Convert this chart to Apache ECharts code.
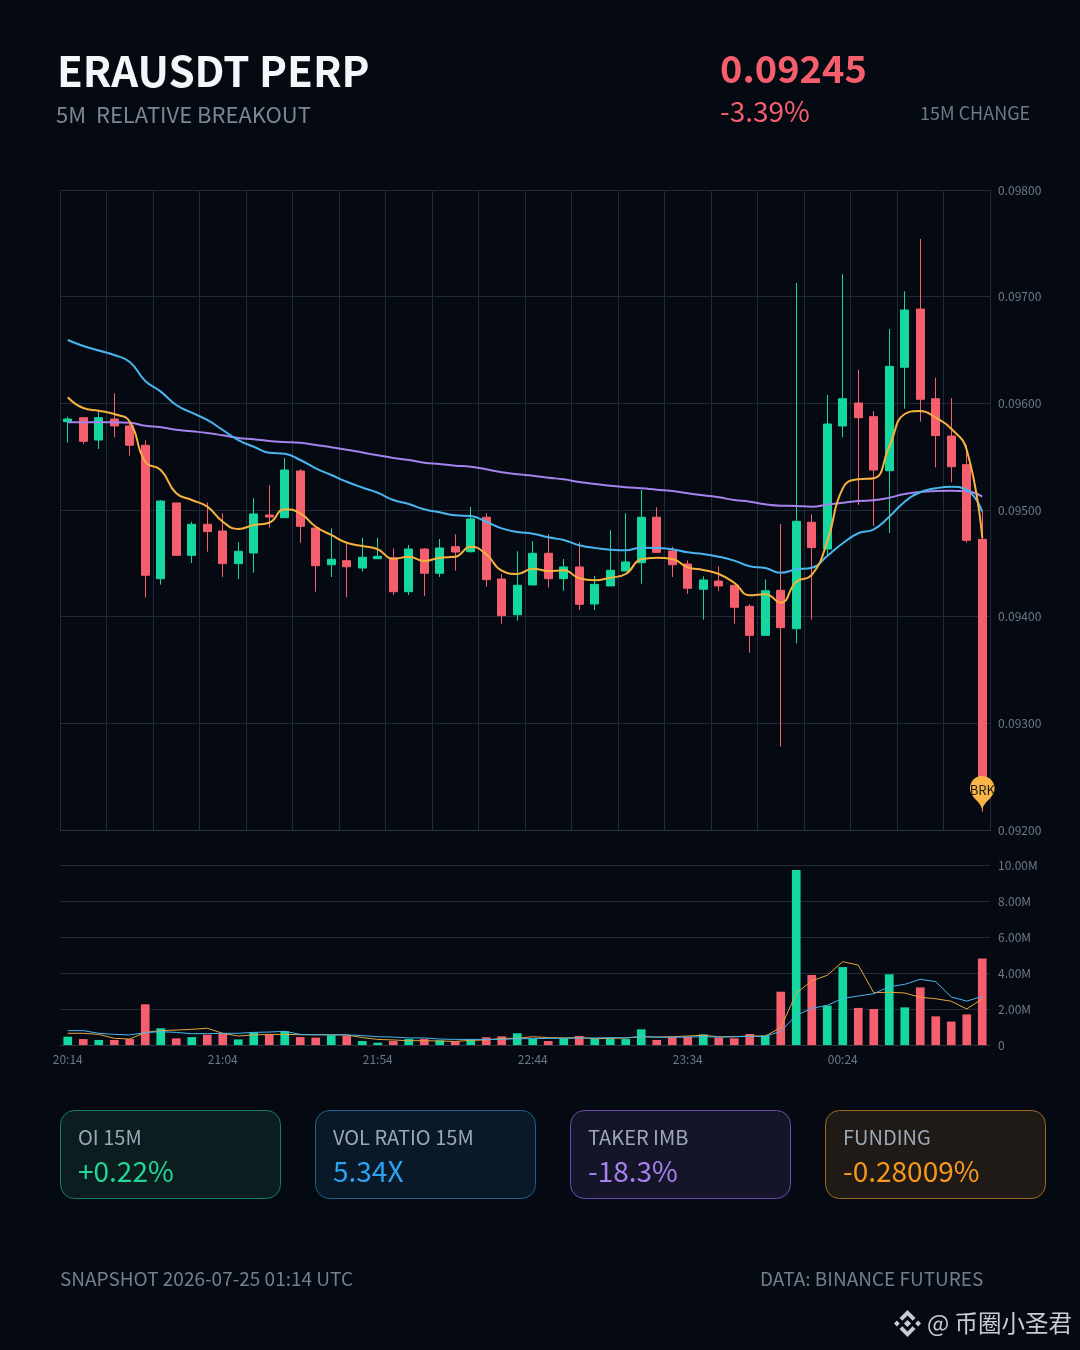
<!DOCTYPE html>
<html><head><meta charset="utf-8">
<style>html,body{margin:0;padding:0;background:#050a12}#c{width:1080px;height:1350px}</style>
<script src="https://cdn.jsdelivr.net/npm/echarts@6/dist/echarts.min.js"></script>
</head><body><div id="c"></div>
<script>
const times=["20:14","20:19","20:24","20:29","20:34","20:39","20:44","20:49","20:54","20:59","21:04","21:09","21:14","21:19","21:24","21:29","21:34","21:39","21:44","21:49","21:54","21:59","22:04","22:09","22:14","22:19","22:24","22:29","22:34","22:39","22:44","22:49","22:54","22:59","23:04","23:09","23:14","23:19","23:24","23:29","23:34","23:39","23:44","23:49","23:54","23:59","00:04","00:09","00:14","00:19","00:24","00:29","00:34","00:39","00:44","00:49","00:54","00:59","01:04","01:09"];
const opens=[.095828,.095865,.095656,.095853,.095788,.095607,.094356,.095066,.094575,.094866,.094803,.094497,.094597,.094953,.094928,.095366,.094831,.094487,.094525,.094456,.094543,.094553,.094234,.094634,.094407,.094656,.094609,.094932,.094353,.094018,.094297,.094594,.094356,.094466,.094119,.094288,.094428,.094506,.094932,.094616,.094494,.094257,.094334,.094294,.094097,.093825,.094247,.093887,.094885,.094634,.095788,.096003,.095875,.095368,.096338,.096884,.096043,.095694,.095425,.094725];
const closes=[.095853,.095644,.095865,.095788,.095607,.094388,.095084,.094575,.094866,.094797,.094497,.094613,.094963,.094934,.095375,.094847,.094478,.094538,.094468,.094557,.094566,.094234,.094634,.094407,.094644,.094606,.094916,.094347,.094009,.094294,.094594,.094356,.094466,.094116,.094303,.094435,.094513,.094932,.094603,.094487,.094266,.094344,.094288,.094088,.093825,.094243,.093897,.094894,.094647,.095806,.096043,.095865,.095375,.096347,.096875,.096038,.095697,.095406,.094716,.09245];
const lows=[.095631,.095619,.095572,.095682,.095509,.094178,.0943,.094575,.094503,.094609,.094372,.094353,.094412,.094834,.094928,.094691,.094234,.094372,.094182,.094422,.094541,.094203,.094203,.094194,.094372,.094431,.0946,.094281,.093934,.093962,.094297,.094272,.094243,.094063,.094063,.094288,.094428,.094309,.0946,.094372,.094213,.093972,.094241,.093934,.093662,.093825,.092781,.09375,.093972,.094578,.095682,.095047,.09485,.094784,.09595,.095828,.0954,.09526,.094693,.092172];
const highs=[.095875,.095865,.095922,.096094,.095816,.095653,.095094,.095066,.09489,.095072,.094969,.094697,.09511,.095232,.095488,.095384,.094831,.094828,.094688,.09474,.09474,.094641,.094672,.094641,.094728,.094772,.095028,.094969,.094397,.094613,.094709,.094772,.094541,.094697,.094381,.09481,.094969,.095188,.095025,.094656,.094528,.094378,.094472,.094294,.094116,.09435,.094869,.097128,.09496,.096078,.09721,.096313,.095928,.096697,.09705,.097541,.09624,.09605,.09561,.094984];
const maFast=[.096057,.095956,.095931,.0959,.095828,.095453,.095375,.095157,.095094,.095031,.09489,.094822,.094859,.094881,.095007,.094969,.094843,.094766,.094693,.094663,.094632,.094541,.094562,.094522,.094553,.094562,.094656,.094585,.094431,.0944,.09445,.094428,.094435,.09436,.094341,.094365,.0944,.094538,.094553,.094541,.094463,.094438,.0944,.094318,.0942,.09421,.094131,.094328,.094391,.094703,.095203,.095288,.095297,.095593,.0959,.095928,.095865,.095762,.095563,.094738];
const maMid=[.096594,.096538,.096495,.096453,.096388,.09621,.09611,.095984,.095912,.095844,.09575,.095656,.095593,.095537,.095528,.095469,.095391,.095328,.095265,.095211,.095162,.095094,.095056,.095007,.094978,.09495,.094944,.09489,.094828,.094794,.094778,.094744,.094719,.094669,.094644,.094628,.094622,.094647,.094644,.094632,.094603,.094588,.094562,.094525,.094472,.094456,.094412,.094444,.094459,.094569,.094688,.094782,.094819,.094937,.095078,.095166,.095203,.095218,.095188,.094984];
const maSlow=[.095822,.095822,.095822,.095822,.095818,.09579,.095775,.095753,.095738,.095722,.0957,.095675,.095663,.095647,.095638,.095631,.095609,.095588,.095565,.095539,.095513,.095488,.095469,.095443,.095431,.095415,.095406,.095382,.095353,.095335,.095322,.095303,.095288,.095263,.095244,.095228,.095213,.095203,.09519,.095178,.095157,.095138,.095119,.095094,.095078,.095053,.09504,.095038,.095031,.09505,.095068,.095084,.095091,.095115,.09515,.095169,.095178,.095181,.095175,.095125];
const volumes=[.46,.33,.28,.28,.33,2.26,.93,.37,.44,.57,.65,.31,.70,.59,.76,.44,.41,.54,.52,.22,.13,.22,.33,.33,.26,.20,.31,.43,.48,.65,.35,.22,.37,.50,.35,.37,.33,.87,.28,.43,.46,.59,.41,.37,.61,.52,2.96,9.72,3.89,2.19,4.33,2.06,2.00,3.93,2.09,3.20,1.59,1.30,1.70,4.81];
const volMaFast=[.65,.65,.59,.37,.33,.70,.80,.83,.87,.93,.65,.50,.56,.59,.59,.57,.57,.57,.56,.41,.31,.28,.24,.24,.22,.20,.26,.28,.37,.37,.46,.41,.39,.41,.35,.37,.39,.46,.44,.46,.50,.54,.46,.46,.50,.50,.96,2.87,3.57,3.87,4.63,4.44,2.91,2.93,2.89,2.65,2.57,2.43,2.00,2.56];
const volMaSlow=[.80,.80,.65,.59,.56,.69,.74,.70,.63,.63,.65,.65,.70,.72,.76,.59,.57,.56,.56,.52,.46,.44,.39,.39,.33,.31,.31,.31,.31,.35,.35,.37,.37,.39,.39,.41,.39,.48,.43,.43,.44,.46,.44,.46,.48,.48,.76,1.65,2.04,2.20,2.59,2.72,2.85,3.24,3.37,3.65,3.52,2.67,2.44,2.70];
const cards=[
 {label:"OI 15M",value:"+0.22%",x:60,fill:"#0b1d1e",border:"#157f5f",color:"#22d796"},
 {label:"VOL RATIO 15M",value:"5.34X",x:315,fill:"#0a1928",border:"#1d6290",color:"#2aa3f4"},
 {label:"TAKER IMB",value:"-18.3%",x:570,fill:"#15152a",border:"#6a4db0",color:"#a77ff0"},
 {label:"FUNDING",value:"-0.28009%",x:825,fill:"#1f1a16",border:"#a06a20",color:"#f7981c"}
];
const UP="#14d8a0",DOWN="#f55e6c",GRID="#202a38",LAB="#6d7889",CJK='"Noto Sans CJK SC","Noto Sans",sans-serif';
const candle=opens.map((o,i)=>[o,closes[i],lows[i],highs[i]]);
const volBars=volumes.map((v,i)=>({value:v,itemStyle:{color:closes[i]>=opens[i]?UP:DOWN}}));
function txt(x,y,text,fill,size,weight,align){return {type:'text',x:x,y:y,silent:true,style:{text:text,fill:fill,font:(weight||400)+' '+size+'px '+CJK,textAlign:align||'left',textVerticalAlign:'middle'}};}
const graphics=[
 txt(57,71.5,"ERAUSDT PERP","#f4f6f9",42,700),
 txt(56,114.5,"5M  RELATIVE BREAKOUT","#7a8596",22),
 txt(720,69,"0.09245",DOWN,38,700),
 txt(720,111.5,"-3.39%",DOWN,28),
 txt(920,113,"15M CHANGE","#6e7989",18),
 txt(60,1279,"SNAPSHOT 2026-07-25 01:14 UTC","#737e8f",19),
 txt(760,1279,"DATA: BINANCE FUTURES","#737e8f",19),
 txt(927,1323,"@ 币圈小圣君","#c6ccd6",23.5)
];
cards.forEach(c=>{
 graphics.push({type:'rect',z:-1,silent:true,shape:{x:c.x+.5,y:1110.5,width:220,height:88,r:14},style:{fill:c.fill,stroke:c.border,lineWidth:1}});
 graphics.push(txt(c.x+18,1137.5,c.label,"#9ca7b8",20));
 graphics.push(txt(c.x+18,1171,c.value,c.color,28));
});
const L=[[-8,-5.5],[0,-13.5],[8,-5.5],[5.2,-2.7],[0,-7.9],[-5.2,-2.7]];
const cx=907.5,cy=1323.5,WM="#c6ccd6";
[L,L.map(p=>[p[0],-p[1]]),[[0,-3.6],[3.6,0],[0,3.6],[-3.6,0]],[[-10.6,-2.9],[-7.7,0],[-10.6,2.9],[-13.5,0]],[[10.6,-2.9],[13.5,0],[10.6,2.9],[7.7,0]]].forEach(pts=>{
 graphics.push({type:'polygon',silent:true,shape:{points:pts.map(p=>[p[0]+cx,p[1]+cy])},style:{fill:WM}});
});
const chart=echarts.init(document.getElementById('c'),null,{width:1080,height:1350});
const axText={color:LAB,fontSize:12,fontFamily:CJK};
chart.setOption({
 animation:false,backgroundColor:"#050a12",
 graphic:{elements:graphics},
 grid:[{left:60,right:90,top:190,height:640},{left:60,right:90,top:865,height:180}],
 xAxis:[
  {type:'category',gridIndex:0,data:times,boundaryGap:true,axisLine:{show:true,lineStyle:{color:"#263142"}},axisTick:{show:false},axisLabel:{show:false},splitLine:{show:true,interval:2,lineStyle:{color:GRID,width:1}}},
  {type:'category',gridIndex:1,data:times,boundaryGap:true,axisLine:{show:true,lineStyle:{color:"#2a3341"}},axisTick:{show:false},axisLabel:Object.assign({interval:9,margin:8},axText),splitLine:{show:false}}
 ],
 yAxis:[
  {type:'value',gridIndex:0,position:'right',min:0.092,max:0.098,interval:0.001,axisLine:{show:false},axisTick:{show:false},axisLabel:Object.assign({margin:8,formatter:v=>v.toFixed(5)},axText),splitLine:{show:true,lineStyle:{color:GRID,width:1}}},
  {type:'value',gridIndex:1,position:'right',min:0,max:10,interval:2,axisLine:{show:false},axisTick:{show:false},axisLabel:Object.assign({margin:8,formatter:v=>v===0?"0":v.toFixed(2)+"M"},axText),splitLine:{show:true,lineStyle:{color:GRID,width:1}}}
 ],
 series:[
  {name:'Price',type:'candlestick',xAxisIndex:0,yAxisIndex:0,data:candle,barWidth:'52%',itemStyle:{color:UP,color0:DOWN,borderColor:UP,borderColor0:DOWN,borderWidth:1},
   markPoint:{symbol:'pin',symbolSize:41,silent:true,data:[{coord:[59,lows[59]],itemStyle:{color:"#f7b548"},label:{show:true,formatter:"BRK",color:"#1f1a12",fontSize:13,fontFamily:CJK}}]}},
  {name:'MA slow',type:'line',xAxisIndex:0,yAxisIndex:0,data:maSlow,smooth:true,symbol:'none',lineStyle:{color:"#a582ec",width:2}},
  {name:'MA mid',type:'line',xAxisIndex:0,yAxisIndex:0,data:maMid,smooth:true,symbol:'none',lineStyle:{color:"#49b5ee",width:2}},
  {name:'MA fast',type:'line',xAxisIndex:0,yAxisIndex:0,data:maFast,smooth:true,symbol:'none',lineStyle:{color:"#f7b23e",width:2}},
  {name:'Volume',type:'bar',xAxisIndex:1,yAxisIndex:1,data:volBars,barWidth:'56%'},
  {name:'Vol MA fast',type:'line',xAxisIndex:1,yAxisIndex:1,data:volMaFast,symbol:'none',lineStyle:{color:"#e8a53c",width:1}},
  {name:'Vol MA slow',type:'line',xAxisIndex:1,yAxisIndex:1,data:volMaSlow,symbol:'none',lineStyle:{color:"#49b5ee",width:1}}
 ]
});
</script></body></html>
